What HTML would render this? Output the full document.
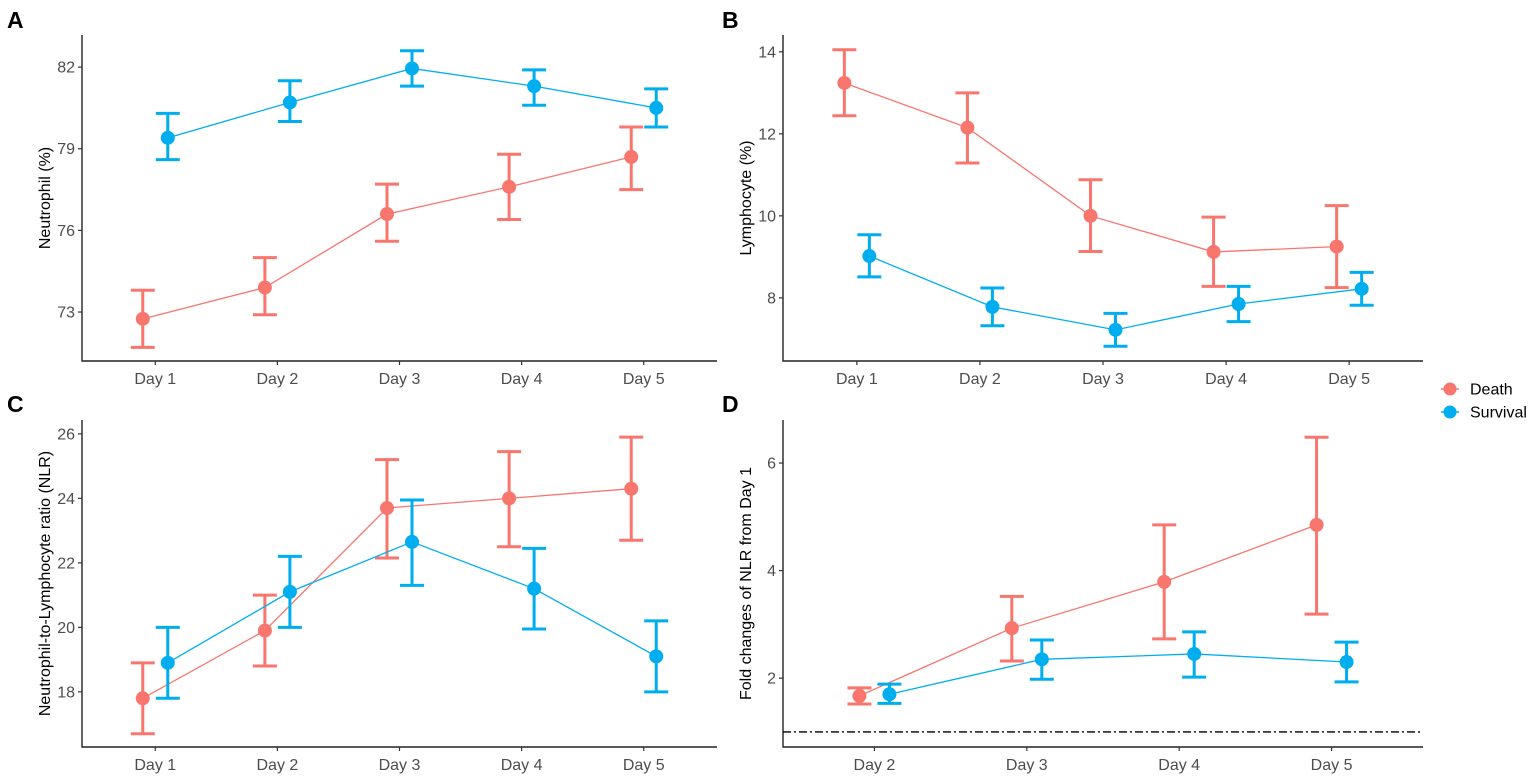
<!DOCTYPE html>
<html><head><meta charset="utf-8"><style>
body{margin:0;background:#fff;}
svg{display:block;font-family:"Liberation Sans",Arial,sans-serif;}
</style></head><body>
<svg id="chart" width="1535" height="776" viewBox="0 0 1535 776"></svg>
<script>
const days5 = ["Day 1","Day 2","Day 3","Day 4","Day 5"];
const days4 = ["Day 2","Day 3","Day 4","Day 5"];
// Panel A - Neutrophil
const aDeath = [72.75,73.9,76.6,77.6,78.7];
const aDeathLo = [71.7,72.9,75.6,76.4,77.5];
const aDeathHi = [73.8,75.0,77.7,78.8,79.8];
const aSurv = [79.4,80.7,81.95,81.3,80.5];
const aSurvLo = [78.6,80.0,81.3,80.6,79.8];
const aSurvHi = [80.3,81.5,82.6,81.9,81.2];
const aTicks = [73,76,79,82];
// Panel B - Lymphocyte
const bDeath = [13.24,12.15,10.0,9.12,9.25];
const bDeathLo = [12.44,11.29,9.13,8.28,8.25];
const bDeathHi = [14.05,13.0,10.88,9.97,10.25];
const bSurv = [9.02,7.78,7.22,7.85,8.22];
const bSurvLo = [8.51,7.32,6.82,7.42,7.82];
const bSurvHi = [9.54,8.24,7.62,8.28,8.62];
const bTicks = [8,10,12,14];
// Panel C - NLR
const cDeath = [17.8,19.9,23.7,24.0,24.3];
const cDeathLo = [16.7,18.8,22.15,22.5,22.7];
const cDeathHi = [18.9,21.0,25.2,25.45,25.9];
const cSurv = [18.9,21.1,22.65,21.2,19.1];
const cSurvLo = [17.8,20.0,21.3,19.95,18.0];
const cSurvHi = [20.0,22.2,23.95,22.45,20.2];
const cTicks = [18,20,22,24,26];
// Panel D - fold change
const dDeath = [1.67,2.93,3.79,4.85];
const dDeathLo = [1.52,2.32,2.73,3.19];
const dDeathHi = [1.82,3.52,4.85,6.48];
const dSurv = [1.70,2.35,2.45,2.30];
const dSurvLo = [1.53,1.98,2.02,1.93];
const dSurvHi = [1.89,2.71,2.86,2.67];
const dTicks = [2,4,6];
const dRef = [1];

const NS="http://www.w3.org/2000/svg";
const svg=document.getElementById('chart');
const RED="#F8766D", BLUE="#00AEEF";
function mk(tag,attrs,parent){const e=document.createElementNS(NS,tag);for(const k in attrs)e.setAttribute(k,attrs[k]);(parent||svg).appendChild(e);return e;}

function panel(o){
  const g=mk('g',{});
  
  
  const n=o.cats.length;
  const step=(o.x1-o.x0)/(n-1+1.2);
  const xs=i=>o.x0+step*(0.6+i);
  const ys=v=>o.y1-(v-o.vmin)/(o.vmax-o.vmin)*(o.y1-o.y0);
  const ax=mk('path',{d:`M${o.x0},${o.y0} L${o.x0},${o.y1} L${o.x1},${o.y1}`,fill:'none',stroke:'#222',"stroke-width":1.4},g);
  
  
  o.ticks.forEach(t=>{
    mk('line',{x1:o.x0-4,x2:o.x0,y1:ys(t),y2:ys(t),stroke:'#333',"stroke-width":1.2},g);
    const tx=mk('text',{x:o.x0-7,y:ys(t)+5.5,"text-anchor":"end","font-size":16,fill:'#4d4d4d'},g);
    tx.textContent=t;
    
    
  });
  o.cats.forEach((c,i)=>{
    mk('line',{x1:xs(i),x2:xs(i),y1:o.y1,y2:o.y1+4,stroke:'#333',"stroke-width":1.2},g);
    const tx=mk('text',{x:xs(i),y:o.y1+23,"text-anchor":"middle","font-size":16,fill:'#4d4d4d'},g);
    tx.textContent=c;
    
    
  });
  if(o.ref){o.ref.forEach(r=>{
    const l=mk('line',{x1:o.x0,x2:o.x1,y1:ys(r),y2:ys(r),stroke:'#000',"stroke-width":1.3,"stroke-dasharray":"8,3,2,3"},g);
    
    
  });}
  const yt=mk('text',{transform:`translate(${o.x0-32},${(o.y0+o.y1)/2}) rotate(-90)`,"text-anchor":"middle","font-size":16,fill:'#000'},g);
  yt.textContent=o.ytitle;
  
  
  const lt=mk('text',{x:o.lx,y:o.ly,"font-size":23,"font-weight":"bold",fill:'#000'},g);
  lt.textContent=o.letter;
  
  
  o.series.forEach(s=>{
    const sg=mk('g',{},g);
    
    
    const px=i=>xs(i)+s.dx*o.dodge;
    const line=mk('polyline',{points:s.m.map((v,i)=>px(i)+','+ys(v)).join(' '),fill:'none',stroke:s.col,"stroke-width":1.3},sg);
    
    
    s.m.forEach((v,i)=>{
      const x=px(i),yl=ys(s.lo[i]),yh=ys(s.hi[i]);
      const eb=mk('path',{d:`M${x-12},${yh} H${x+12} M${x},${yh} V${yl} M${x-12},${yl} H${x+12}`,fill:'none',stroke:s.col,"stroke-width":3},sg);
      
      
      const p=mk('circle',{cx:x,cy:ys(v),r:7,fill:s.col},sg);
      
      
    });
  });
}
panel({name:'panel-a',letter:'A',lx:7,ly:28,x0:82,x1:717,y0:35,y1:361,vmin:71.2,vmax:83.18,ticks:aTicks,cats:days5,dodge:12.5,ytitle:'Neutrophil (%)',
 series:[{key:'death',col:RED,dx:-1,m:aDeath,lo:aDeathLo,hi:aDeathHi},{key:'survival',col:BLUE,dx:1,m:aSurv,lo:aSurvLo,hi:aSurvHi}]});
panel({name:'panel-b',letter:'B',lx:722,ly:28,x0:783,x1:1423,y0:35,y1:361,vmin:6.46,vmax:14.41,ticks:bTicks,cats:days5,dodge:12.5,ytitle:'Lymphocyte (%)',
 series:[{key:'death',col:RED,dx:-1,m:bDeath,lo:bDeathLo,hi:bDeathHi},{key:'survival',col:BLUE,dx:1,m:bSurv,lo:bSurvLo,hi:bSurvHi}]});
panel({name:'panel-c',letter:'C',lx:7,ly:412,x0:82,x1:717,y0:420,y1:747,vmin:16.29,vmax:26.43,ticks:cTicks,cats:days5,dodge:12.5,ytitle:'Neutrophil-to-Lymphocyte ratio (NLR)',
 series:[{key:'death',col:RED,dx:-1,m:cDeath,lo:cDeathLo,hi:cDeathHi},{key:'survival',col:BLUE,dx:1,m:cSurv,lo:cSurvLo,hi:cSurvHi}]});
panel({name:'panel-d',letter:'D',lx:722,ly:412,x0:783,x1:1423,y0:420,y1:747,vmin:0.72,vmax:6.8,ticks:dTicks,cats:days4,dodge:15,ref:dRef,ytitle:'Fold changes of NLR from Day 1',
 series:[{key:'death',col:RED,dx:-1,m:dDeath,lo:dDeathLo,hi:dDeathHi},{key:'survival',col:BLUE,dx:1,m:dSurv,lo:dSurvLo,hi:dSurvHi}]});
const lg=mk('g',{});


[["Death",RED,389],["Survival",BLUE,412]].forEach(([t,c,y])=>{
  const e=mk('g',{},lg);
  
  
  mk('line',{x1:1441,x2:1459,y1:y,y2:y,stroke:c,"stroke-width":1.5},e);
  mk('circle',{cx:1450,cy:y,r:6.5,fill:c},e);
  const tx=mk('text',{x:1470,y:y+5.5,"font-size":16,fill:'#000'},e);
  tx.textContent=t;
});
</script>
</body></html>
